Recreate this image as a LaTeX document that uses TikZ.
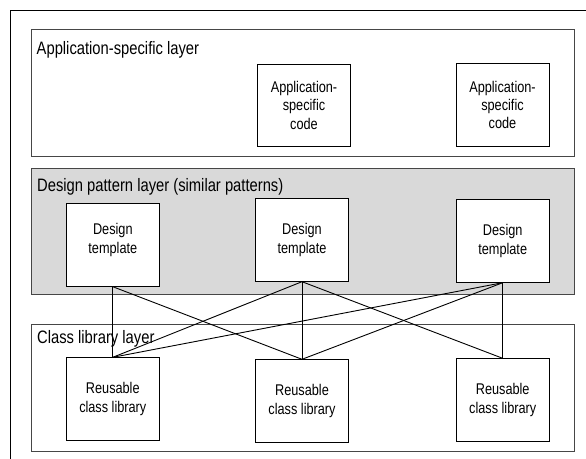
\documentclass[tikz,border=0pt]{standalone}
\usepackage{fontspec}
\setmainfont[FakeStretch=0.82]{Liberation Sans}
\definecolor{layergray}{RGB}{217,217,217}
\definecolor{layerline}{RGB}{70,70,70}
\begin{document}
\begin{tikzpicture}[x=1pt,y=-1pt,
  layer/.style={draw=layerline, line width=0.9pt, minimum width=543pt, minimum height=126.5pt, inner sep=0pt, anchor=north west},
  layerlabel/.style={font=\fontsize{18}{21}\selectfont, anchor=base west, inner sep=0pt},
  boxtext/.style={align=center, inner sep=0pt, font=\fontsize{15.5}{18.2}\selectfont},
  box/.style={draw=black, fill=white, line width=0.9pt, minimum width=93pt, minimum height=82.5pt, inner sep=0pt, boxtext},
  link/.style={draw=black, line width=0.9pt}]
\useasboundingbox (0,0) rectangle (586,458);
% outer frame
\coordinate (fbl) at (10,470);
\coordinate (ftl) at (10,10);
\coordinate (ftr) at (600,10);
\draw[line width=0.9pt] (fbl) -- (ftl) -- (ftr);
% layers
\node[layer, fill=white] (appL) at (31,29) {};
\node[layer, fill=layergray] (desL) at (31,167.5) {};
\node[layer, fill=white] (clsL) at (31,324) {};
\node[layerlabel] (appT) at (36.5,54.5) {Application-specific layer};
\node[layerlabel] (desT) at (37,191) {Design pattern layer (similar patterns)};
\node[layerlabel] (clsT) at (37,343.5) {Class library layer};
% application-specific code
\node[box] (a1) at (304,105.3) {Application-\\specific\\code};
\node[box] (a2) at (502.5,104.8) {Application-\\specific\\code};
% design templates
\node[box, label={[boxtext, yshift=5pt]center:{Design\\template}}] (t1) at (112.8,245) {};
\node[box] (t2) at (302,240) {Design\\template};
\node[box] (t3) at (502.7,241) {Design\\template};
% reusable class libraries
\node[box] (r1) at (112.8,399) {Reusable\\class library};
\node[box] (r2) at (302,401) {Reusable\\class library};
\node[box] (r3) at (502.7,400) {Reusable\\class library};
% connectors
\draw[link] (t1.south) -- (r1.north);
\draw[link] (t1.south) -- (r2.north);
\draw[link] (t2.south) -- (r1.north);
\draw[link] (t2.south) -- (r2.north);
\draw[link] (t2.south) -- (r3.north);
\draw[link] (t3.south) -- (r1.north);
\draw[link] (t3.south) -- (r2.north);
\draw[link] (t3.south) -- (r3.north);
\end{tikzpicture}
\end{document}
